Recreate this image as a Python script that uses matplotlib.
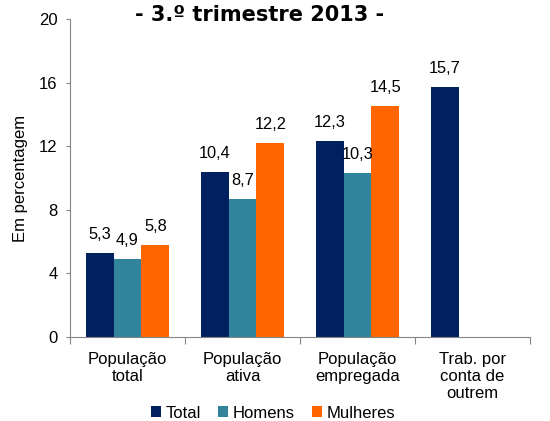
import matplotlib
matplotlib.use("Agg")
import matplotlib.pyplot as plt
import numpy as np

categories = ["População\ntotal", "População\nativa", "População\nempregada", "Trab. por\nconta de\noutrem"]
series_names = ["Total", "Homens", "Mulheres"]
total = [5.3, 10.4, 12.3, 15.7]
homens = [4.9, 8.7, 10.3, np.nan]
mulheres = [5.8, 12.2, 14.5, np.nan]
colors = ["#002060", "#31849B", "#FF6600"]
title = "- 3.º trimestre 2013 -"
ylabel = "Em percentagem"
yticks = [0, 4, 8, 12, 16, 20]

plt.rcParams['font.family'] = ['Liberation Sans', 'DejaVu Sans']

fig = plt.figure(figsize=(5.5, 4.21), dpi=100)
ax = fig.add_axes([70/550, 1-337/421, 460/550, (337-19)/421])

x = np.arange(len(categories))
w = 0.243
for i, (vals, name, c) in enumerate(zip([total, homens, mulheres], series_names, colors)):
    pos = x + (i - 1) * w
    ax.bar(pos, vals, width=w, color=c, label=name)
    for p, v in zip(pos, vals):
        if not np.isnan(v):
            ax.text(p, v + 0.7, f"{v:.1f}".replace(".", ","), ha="center", va="bottom", fontsize=11.8)

ax.set_xlim(-0.5, len(categories) - 0.5)
ax.set_ylim(0, 20)
ax.set_yticks(yticks)
ax.tick_params(axis='y', labelsize=12, length=3, color="#868686", pad=6)
ax.set_xticks(np.arange(len(categories) + 1) - 0.5, minor=False)
ax.set_xticklabels([])
ax.tick_params(axis='x', length=5, color="#868686")
ax.set_xticks(x, minor=True)
ax.set_xticklabels(categories, minor=True, fontsize=12, linespacing=1.15)
ax.tick_params(axis='x', which='minor', length=0, pad=11)
for s in ["top", "right"]:
    ax.spines[s].set_visible(False)
for s in ["left", "bottom"]:
    ax.spines[s].set_color("#868686")
ax.set_ylabel(ylabel, fontsize=12)
ax.yaxis.set_label_coords(-(70 - 28) / 460, 0.5)

fig.text(260/550, 1-15/421, title, ha="center", va="center", fontsize=15, fontweight="bold", family="DejaVu Sans")

fig.legend(loc="center", bbox_to_anchor=(273/550, 1-413/421), ncol=3, frameon=False,
           fontsize=12, handlelength=0.6, handleheight=0.6, handletextpad=0.3, columnspacing=1.0,
           borderpad=0, borderaxespad=0)

fig.savefig("out.png", dpi=100)
